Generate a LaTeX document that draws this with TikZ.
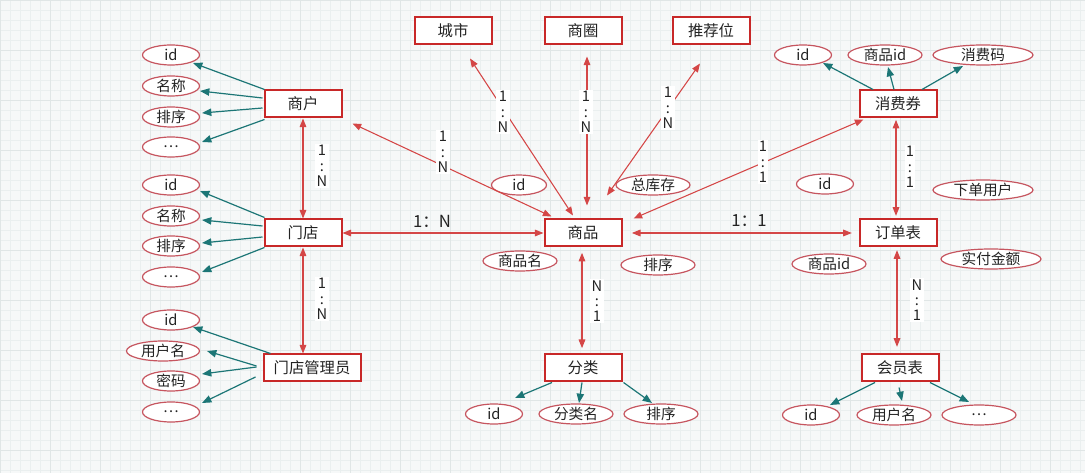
\documentclass[tikz,border=0pt]{standalone}
\usepackage{fontspec}
\newfontfamily\cjk{Noto Sans CJK SC}
\usetikzlibrary{shapes.geometric,arrows.meta,calc}
\definecolor{boxred}{RGB}{200,40,40}
\definecolor{relred}{RGB}{212,70,70}
\definecolor{ellred}{RGB}{198,85,95}
\definecolor{tealc}{RGB}{28,118,118}
\definecolor{txt}{RGB}{35,35,35}
\definecolor{bgc}{RGB}{246,248,248}
\definecolor{gridminor}{RGB}{234,239,239}
\definecolor{gridmajor}{RGB}{224,230,230}
\tikzset{
 ent/.style={draw=boxred, line width=1.5pt, fill=white, minimum width=57.75pt, minimum height=20.25pt, inner sep=0pt, font=\cjk\fontsize{11.5}{13}\selectfont, text=txt},
 attr/.style={ellipse, draw=ellred, line width=0.9pt, fill=white, minimum width=42.75pt, minimum height=15pt, inner sep=0pt, font=\cjk\fontsize{11}{12}\selectfont, text=txt},
 attrw/.style={attr, minimum width=55.5pt},
 attrx/.style={attr, minimum width=75pt},
 rel/.style={draw=relred, line width=0.8pt, {Triangle[length=6.5pt,width=5pt]}-{Triangle[length=6.5pt,width=5pt]}},
 own/.style={draw=tealc, line width=0.9pt, -{Triangle[length=7pt,width=5.5pt]}},
 card/.style={fill=white, inner sep=1pt, align=center, font=\cjk\fontsize{11}{11.5}\selectfont, text=txt},
 hcard/.style={inner sep=0pt, font=\cjk\fontsize{12.5}{14}\selectfont, text=txt},
}
\begin{document}
\begin{tikzpicture}[x=0.75pt,y=-0.75pt]
\useasboundingbox (0,0) rectangle (1085,473);
\fill[bgc] (0,0) rectangle (1085,473);
\foreach \i in {0,10,...,1080} \draw[gridminor, line width=0.3pt] (\i,0) -- (\i,473);
\foreach \j in {0,10,...,470} \draw[gridminor, line width=0.3pt] (0,\j) -- (1085,\j);
\foreach \i in {0,50,...,1050} \draw[gridmajor, line width=0.4pt] (\i,0) -- (\i,473);
\foreach \j in {0,50,...,450} \draw[gridmajor, line width=0.4pt] (0,\j) -- (1085,\j);

% entities
\node[ent] (sh) at (303,104) {商户};
\node[ent] (md) at (303,233) {门店};
\node[ent, minimum width=72.75pt] (mg) at (312,368) {门店管理员};
\node[ent] (city) at (453,31) {城市};
\node[ent] (sq) at (583,31) {商圈};
\node[ent] (tjw) at (711,31) {推荐位};
\node[ent] (sp) at (583,233) {商品};
\node[ent] (fl) at (583,368) {分类};
\node[ent] (xfq) at (898,104) {消费券};
\node[ent] (dd) at (898,233) {订单表};
\node[ent] (hy) at (900,368) {会员表};

% attributes
\node[attr] (a1) at (171,55) {id};
\node[attr] (a2) at (171,86) {名称};
\node[attr] (a3) at (171,117) {排序};
\node[attr] (a4) at (171,147) {…};
\node[attr] (b1) at (171,185) {id};
\node[attr] (b2) at (171,216) {名称};
\node[attr] (b3) at (171,246) {排序};
\node[attr] (b4) at (171,277) {…};
\node[attr] (c1) at (171,320) {id};
\node[attr, minimum width=54.75pt] (c2) at (163,351) {用户名};
\node[attr] (c3) at (171,381) {密码};
\node[attr] (c4) at (171,412) {…};
\node[attr, minimum width=41.25pt] (p1) at (519,185) {id};
\node[attrw] (p2) at (653,185) {总库存};
\node[attrw] (p3) at (520,261) {商品名};
\node[attrw] (p4) at (658,265) {排序};
\node[attr] (f1) at (494,414) {id};
\node[attrw] (f2) at (576,414) {分类名};
\node[attrw] (f3) at (661,414) {排序};
\node[attr] (x1) at (803,55) {id};
\node[attrw] (x2) at (885,55) {商品id};
\node[attrx] (x3) at (983,55) {消费码};
\node[attr] (x4) at (825,184) {id};
\node[attrx] (x5) at (983,190) {下单用户};
\node[attrw] (d1) at (829,264) {商品id};
\node[attrx] (d2) at (991,259) {实付金额};
\node[attr] (h1) at (811,415) {id};
\node[attrw] (h2) at (894,415) {用户名};
\node[attrw] (h3) at (979,415) {…};

% attribute connectors
\draw[own] ($(sh.north west)+(1,0)$) -- ($(a1)+(22,8)$);
\draw[own] ($(sh.west)+(-1,-6)$) -- ($(a2)+(29,5)$);
\draw[own] ($(sh.west)+(-1,4)$) -- ($(a3)+(31,-4)$);
\draw[own] ($(sh.south west)+(1,1)$) -- ($(a4)+(31,-5)$);
\draw[own] ($(md.north west)+(1,-1)$) -- ($(b1)+(29,6)$);
\draw[own] ($(md.west)+(-1,-7)$) -- ($(b2)+(31,4)$);
\draw[own] ($(md.west)+(-1,4)$) -- ($(b3)+(31,-3)$);
\draw[own] ($(md.south west)+(1,0)$) -- ($(b4)+(31,-5)$);
\draw[own] ($(mg.north west)+(8,0)$) -- ($(c1)+(22,7)$);
\draw[own] ($(mg.west)+(-6,-2)$) -- ($(c2)+(44,0)$);
\draw[own] ($(mg.west)+(-6,-1)$) -- ($(c3)+(31,-7)$);
\draw[own] ($(mg.west)+(-7,9)$) -- ($(c4)+(31,-9)$);
\draw[own] ($(fl.south)+(-31,0)$) -- ($(f1)+(21,-16)$);
\draw[own] ($(fl.south)+(-1,0)$) -- ($(f2)+(3,-11)$);
\draw[own] ($(fl.south east)+(1,0)$) -- ($(f3)+(-9,-11)$);
\draw[own] ($(hy.south)+(-25,0)$) -- ($(h1)+(19,-10)$);
\draw[own] ($(hy.south)+(-1,5)$) -- ($(h2)+(8,-14)$);
\draw[own] ($(hy.south)+(30,0)$) -- ($(h3)+(-10,-13)$);
\draw[own] ($(xfq.north)+(-25,0)$) -- ($(x1)+(20,8)$);
\draw[own] ($(xfq.north)+(-4,0)$) -- ($(x2)+(3,12)$);
\draw[own] ($(xfq.north)+(24,0)$) -- ($(x3)+(-20,11)$);

% relations
\draw[rel] (sh) -- (md);
\draw[rel] (md.south) -- (md.south |- mg.north);
\draw[rel] ($(sp.north west)+(8,-2)$) -- ($(sh.south east)+(10,5)$);
\draw[rel] ($(sp.north)+(-10,-3)$) -- ($(city.south)+(17,13)$);
\draw[rel] ($(sp.north)+(4,-13)$) -- ($(sq.south)+(4,11)$);
\draw[rel] ($(sp.north)+(24,-23)$) -- ($(tjw.south)+(-11,18)$);
\draw[rel] ($(sp.north east)+(11,0)$) -- ($(xfq.south west)+(5,1)$);
\draw[rel] (md) -- (sp);
\draw[rel, shorten <=7pt, shorten >=5pt] (sp) -- (dd);
\draw[rel, shorten <=1pt, shorten >=2pt] ($(xfq.south)+(-2,0)$) -- ($(dd.north)+(-2,0)$);
\draw[rel, shorten <=4pt, shorten >=4pt] ($(sp.south)+(-1,0)$) -- ($(fl.north)+(-1,0)$);
\draw[rel, shorten <=2pt, shorten >=5pt] ($(dd.south)+(-1,0)$) -- ($(hy.north)+(-3,0)$);

% cardinality labels
\node[card] (l1) at (322,166) {1\\:\\N};
\node[card] (l2) at (322,299) {1\\:\\N};
\node[card] (l3) at (443,152) {1\\:\\N};
\node[card] (l4) at (503,112) {1\\:\\N};
\node[card] (l5) at (586,112) {1\\:\\N};
\node[card] (l6) at (668,108) {1\\:\\N};
\node[card] (l7) at (763,162) {1\\:\\1};
\node[card] (l8) at (910,167) {1\\:\\1};
\node[card] (l9) at (597,301) {N\\:\\1};
\node[card] (l10) at (917,300) {N\\:\\1};
\node[hcard] (l11) at (432,221) {1：N};
\node[hcard] (l12) at (749,221) {1：1};
\end{tikzpicture}
\end{document}
